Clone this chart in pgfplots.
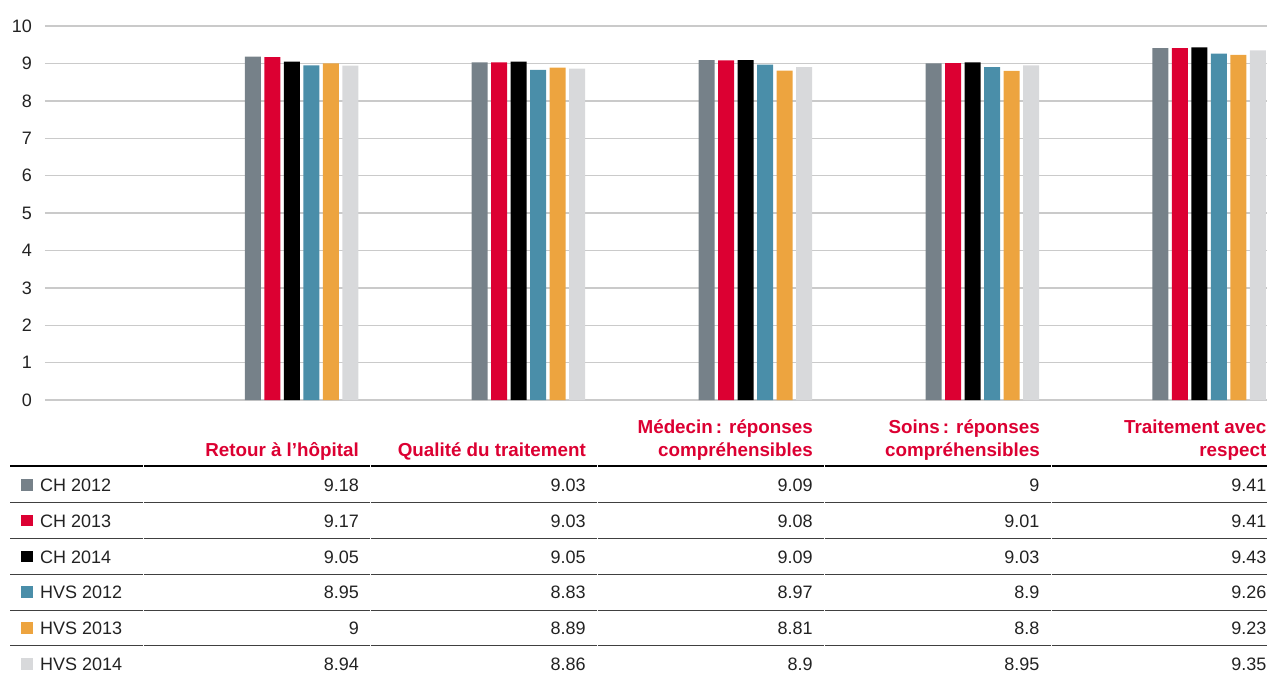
\documentclass[border=0pt]{standalone}
\usepackage{pgfplots}
\usepackage{pgfplotstable}
\pgfplotsset{compat=1.18}
\usepackage{fontspec}
\setmainfont{Liberation Sans}

\definecolor{chA}{HTML}{768189}
\definecolor{chB}{HTML}{DC0032}
\definecolor{chC}{HTML}{000000}
\definecolor{hvsA}{HTML}{4A8EA9}
\definecolor{hvsB}{HTML}{EDA43F}
\definecolor{hvsC}{HTML}{D8D9DB}
\definecolor{gridc}{HTML}{CACACA}
\definecolor{txt}{HTML}{222222}
\definecolor{headred}{HTML}{DC0032}

\newcommand\tabfont{\fontsize{18}{20}\selectfont}
\newcommand\headfont{\fontsize{18.8}{22}\selectfont\bfseries}

% one row per category, one column per series
\pgfplotstableread{
x ch12 ch13 ch14 hvs12 hvs13 hvs14
0 9.18 9.17 9.05 8.95 9 8.94
1 9.03 9.03 9.05 8.83 8.89 8.86
2 9.09 9.08 9.09 8.97 8.81 8.9
3 9 9.01 9.03 8.9 8.8 8.95
4 9.41 9.41 9.43 9.26 9.23 9.35
}\data

\begin{document}
\begin{tikzpicture}[x=1pt,y=-1pt]
\path[use as bounding box] (0,0) rectangle (1267,675);

\begin{axis}[
    at={(45pt,-400pt)}, anchor=south west,
    scale only axis, width=1222pt, height=374pt,
    xmin=-1.13045, xmax=4.25518, ymin=0, ymax=10,
    ybar=3.5pt, bar width=16pt,
    axis line style={draw=none},
    xtick=\empty,
    ytick={0,1,...,10},
    major tick length=0pt,
    ymajorgrids,
    grid style={gridc, line width=1.4pt},
    yticklabel style={anchor=east, inner sep=0pt, xshift=-13pt,
        font=\fontsize{18}{18}\selectfont, text=txt},
    /pgf/number format/assume math mode=true,
]
\addplot[fill=chA, draw=none] table[x=x, y=ch12] {\data};
\addplot[fill=chB, draw=none] table[x=x, y=ch13] {\data};
\addplot[fill=chC, draw=none] table[x=x, y=ch14] {\data};
\addplot[fill=hvsA, draw=none] table[x=x, y=hvs12] {\data};
\addplot[fill=hvsB, draw=none] table[x=x, y=hvs13] {\data};
\addplot[fill=hvsC, draw=none] table[x=x, y=hvs14] {\data};
\end{axis}

% column headers
\begin{scope}[every node/.style={anchor=base east, inner sep=0pt, text=headred, font=\headfont}]
\node at (359,456) {Retour à l’hôpital};
\node at (586,456) {Qualité du traitement};
\node at (813,433.5) {Médecin\,: réponses};
\node at (813,456) {compréhensibles};
\node at (1040,433.5) {Soins\,: réponses};
\node at (1040,456) {compréhensibles};
\node at (1266.5,433.5) {Traitement avec};
\node at (1266.5,456) {respect};
\end{scope}

% rules
\foreach \a/\b in {10/142.5, 143.5/369.5, 370.5/596.5, 597.5/823.5, 824.5/1050.5, 1051.5/1267}{
  \draw[black, line width=2pt] (\a,466) -- (\b,466);
  \foreach \yy in {502,538,574,610,645.5}
    \draw[black!75, line width=1pt] (\a,\yy) -- (\b,\yy);
}

% table body
\foreach \c/\col/\name [count=\i from 0] in {ch12/chA/CH 2012, ch13/chB/CH 2013, ch14/chC/CH 2014, hvs12/hvsA/HVS 2012, hvs13/hvsB/HVS 2013, hvs14/hvsC/HVS 2014}{
  \fill[\col] (21,{479+35.8*\i}) rectangle (32.5,{490.5+35.8*\i});
  \node[anchor=base west, inner sep=0pt, text=txt, font=\tabfont] at (40,{491.5+35.8*\i}) {\name};
  \foreach \k in {0,...,4}{
    \pgfplotstablegetelem{\k}{\c}\of\data
    \node[anchor=base east, inner sep=0pt, text=txt, font=\tabfont] at ({359+226.9*\k},{491.5+35.8*\i}) {\pgfplotsretval};
  }
}
\end{tikzpicture}
\end{document}
